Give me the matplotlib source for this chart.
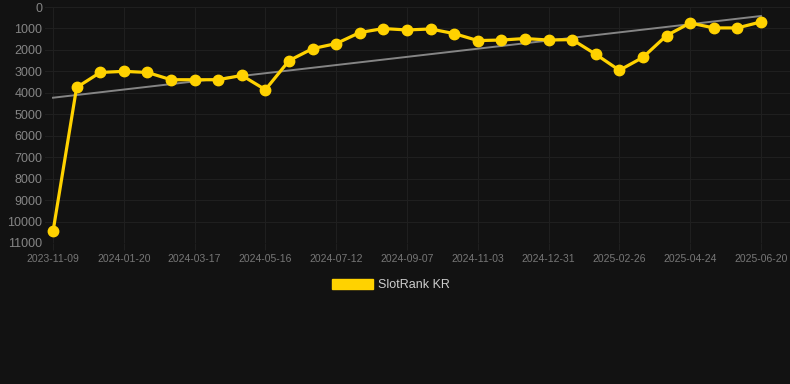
#!/usr/bin/env python3
import numpy as np
import matplotlib
matplotlib.use("Agg")
import matplotlib.pyplot as plt
from matplotlib.patches import Patch

plt.rcParams['font.family'] = ['Liberation Sans', 'DejaVu Sans']

# rank per snapshot (lower is better), one value every ~3 weeks
ranks = [10460, 3750, 3050, 3000, 3050, 3390, 3390, 3390, 3190, 3855,
         2500, 1940, 1705, 1190, 1005, 1070, 1025, 1240, 1565, 1540,
         1470, 1540, 1520, 2205, 2950, 2345, 1330, 745, 975, 975, 695]
tick_labels = ["2023-11-09", "2024-01-20", "2024-03-17", "2024-05-16",
               "2024-07-12", "2024-09-07", "2024-11-03", "2024-12-31",
               "2025-02-26", "2025-04-24", "2025-06-20"]
series_name = "SlotRank KR"
y_ticks = list(range(0, 11001, 1000))

bg = "#121212"
grid_c = "#1f1f1f"
gold = "#FFD200"

W, H = 790, 384
fig = plt.figure(figsize=(W / 100, H / 100), dpi=100, facecolor=bg)
ax = fig.add_axes([45 / W, (H - 243) / H, (W - 45) / W, (243 - 7) / H])
ax.set_facecolor(bg)

x = np.arange(len(ranks))
ax.plot(x, ranks, color=gold, lw=2.3, marker="o", ms=7.5, zorder=3)

# linear trend
k, b = np.polyfit(x, ranks, 1)
ax.plot([x[0], x[-1]], [k * x[0] + b, k * x[-1] + b], color="#858585",
        lw=1.4, zorder=2)

step = 3
ax.set_xticks(x[::step])
ax.set_xticklabels(tick_labels)
ax.set_yticks(y_ticks)
ax.set_xlim(-0.34, 31.23)
ax.set_ylim(11000, 0)

for s in ax.spines.values():
    s.set_visible(False)
ax.grid(True, color=grid_c, lw=0.8)
ax.tick_params(axis="x", colors=grid_c, length=5, width=0.8, labelsize=7.5,
               labelcolor="#777777", pad=3)
ax.tick_params(axis="y", length=0, labelsize=9, labelcolor="#858585", pad=2)

fig.legend(handles=[Patch(facecolor=gold, edgecolor=gold, label=series_name)],
           loc="center", bbox_to_anchor=(0.495, 0.258), frameon=False,
           fontsize=9, labelcolor="#cccccc", handlelength=3.3,
           handleheight=0.9, handletextpad=0.4)

fig.savefig("out.png", dpi=100, facecolor=bg)
